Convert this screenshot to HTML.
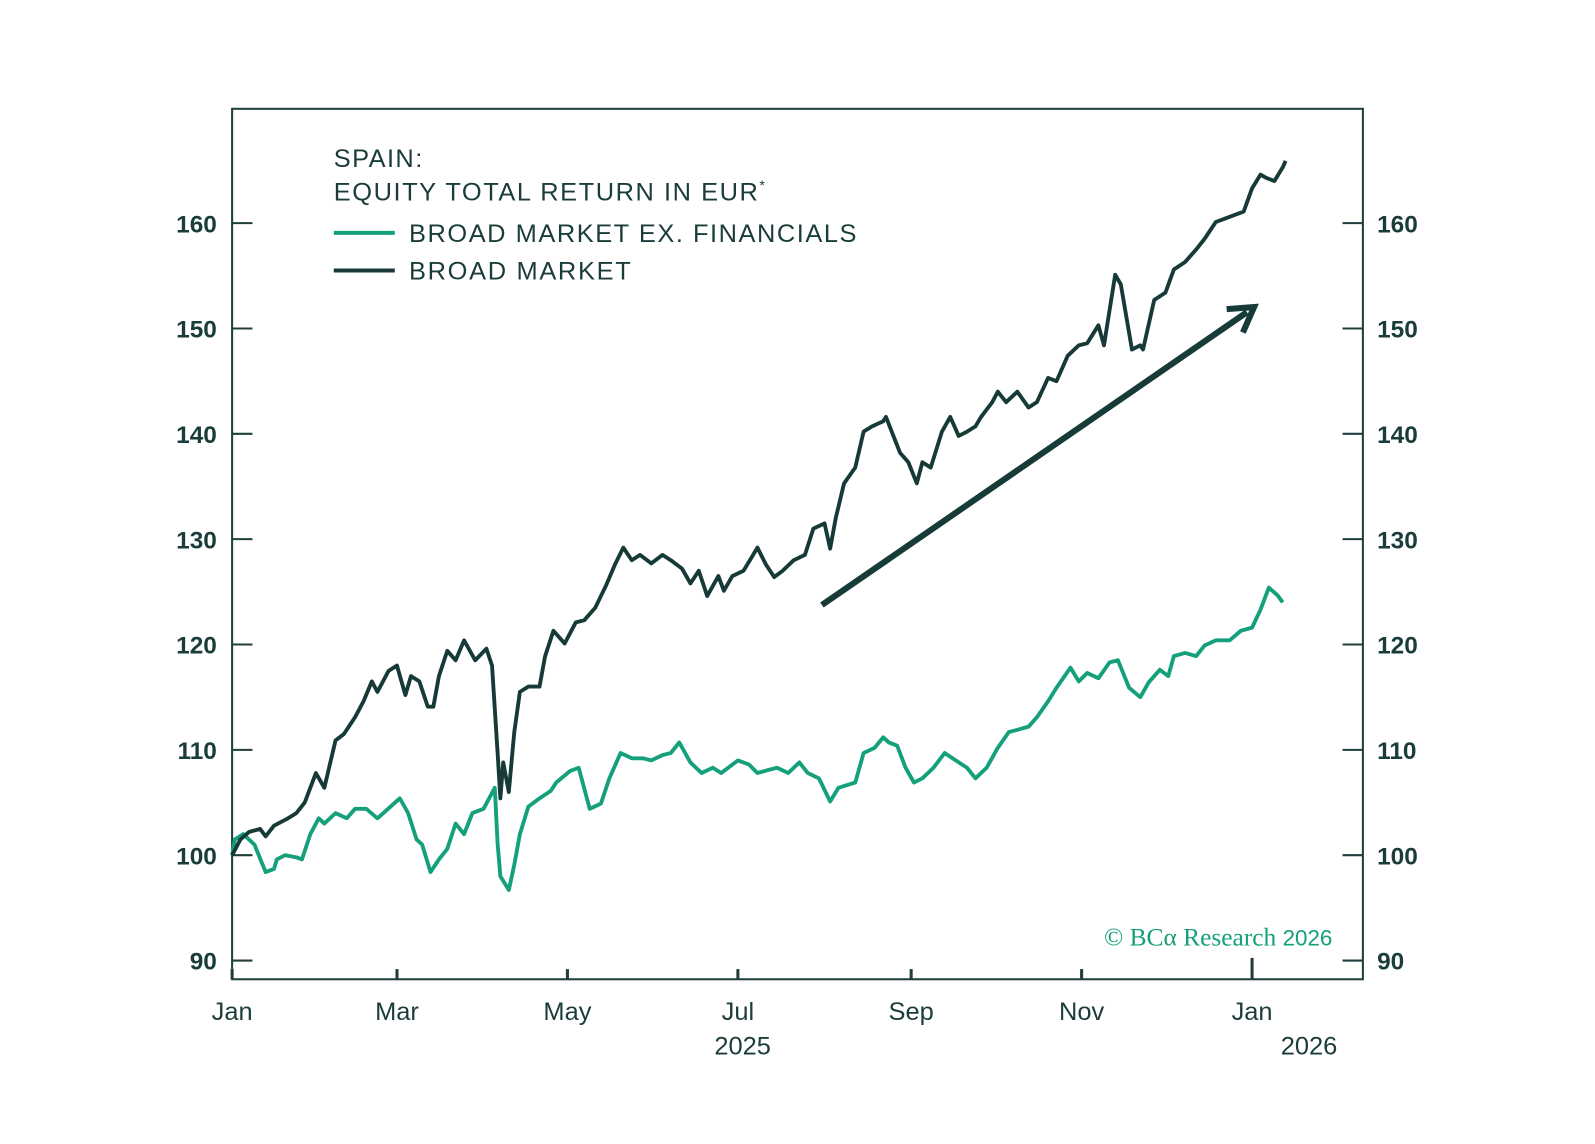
<!DOCTYPE html>
<html><head><meta charset="utf-8"><style>
body{margin:0;background:#fff;}
svg{display:block}
svg text{font-family:"Liberation Sans",sans-serif;fill:#1a3c3a;}
</style></head><body>
<svg width="1595" height="1144" viewBox="0 0 1568 1125">
<rect x="228" y="107" width="1112" height="856" fill="none" stroke="#1f3f3d" stroke-width="2"/>
<g id="axes"></g>
<g id="series"></g>
<line x1="808" y1="595" x2="1226" y2="307" stroke="#173b38" stroke-width="6"/>
<path d="M1206,304 L1233,302 L1222,327" fill="none" stroke="#173b38" stroke-width="6"/>
<text x="328" y="164" font-size="25" textLength="87">SPAIN:</text>
<text x="328" y="197" font-size="25"><tspan textLength="417">EQUITY TOTAL RETURN IN EUR</tspan><tspan font-size="14" dy="-10">*</tspan></text>
<line x1="328" y1="229" x2="388" y2="229" stroke="#14a07a" stroke-width="4"/>
<text x="402" y="238" font-size="25" textLength="440">BROAD MARKET EX. FINANCIALS</text>
<line x1="328" y1="266" x2="388" y2="266" stroke="#163a37" stroke-width="4"/>
<text x="402" y="275" font-size="25" textLength="218">BROAD MARKET</text>
<text x="1310" y="930" font-size="25" text-anchor="end" style="font-family:'Liberation Serif',serif;fill:#14a07a">© BCα Research <tspan font-family="Liberation Sans" font-size="22">2026</tspan></text>
</svg>
<script>
const yTicks=[90,100,110,120,130,140,150,160];
const xTickDays=[0,59,120,181,243,304,365];
const xTickLabels=["Jan","Mar","May","Jul","Sep","Nov","Jan"];
const broadDays=[0,3,6,10,12,15,20,23,26,30,33,37,40,44,47,50,52,56,59,62,64,67,70,72,74,77,80,83,87,91,93,95,96,97,99,101,103,106,110,112,115,119,123,126,130,134,137,140,143,146,150,154,157,161,164,167,170,174,176,179,183,186,188,191,194,197,201,205,208,212,214,216,219,223,226,229,233,234,239,242,245,247,250,254,257,260,263,266,268,272,274,277,281,285,288,292,295,299,303,306,310,312,316,318,322,325,326,330,334,337,341,345,348,352,357,362,365,368,370,373,376,377];
const broadVals=[100,101.5,102.2,102.5,101.8,102.8,103.5,104,105,107.8,106.4,110.9,111.5,113.1,114.6,116.5,115.5,117.5,118,115.2,117,116.5,114.1,114.1,117,119.4,118.5,120.4,118.5,119.6,118,109.7,105.4,108.8,106,111.7,115.5,116,116,118.9,121.3,120.1,122.1,122.3,123.5,125.7,127.6,129.2,128,128.5,127.7,128.5,128,127.2,125.8,127,124.6,126.5,125.1,126.5,127,128.3,129.2,127.6,126.4,127,128,128.5,131,131.5,129.1,132,135.3,136.8,140.2,140.7,141.2,141.6,138.2,137.3,135.3,137.3,136.8,140.2,141.6,139.8,140.2,140.7,141.6,143,144,143,144,142.5,143,145.3,145,147.4,148.4,148.6,150.3,148.4,155.1,154.2,148,148.4,148,152.7,153.4,155.6,156.3,157.5,158.5,160.1,160.6,161.1,163.3,164.6,164.3,164,165.3,165.9];
const exFinDays=[0,1,4,8,12,15,16,19,23,25,28,31,33,37,41,44,48,52,55,60,63,66,68,71,74,77,80,83,86,90,94,95,96,99,101,103,106,110,114,116,121,124,128,132,135,139,143,147,150,154,157,160,164,168,172,175,181,185,188,192,195,199,203,206,210,214,217,223,226,230,233,235,238,241,244,247,251,255,259,263,266,270,274,278,281,285,288,292,295,300,303,306,310,314,317,321,325,328,332,335,337,341,345,348,352,357,361,365,368,371,374,376];
const exFinVals=[100,101.5,102,101,98.4,98.7,99.6,100,99.8,99.6,102,103.5,103,104,103.5,104.4,104.4,103.5,104.2,105.4,104,101.5,101,98.4,99.6,100.6,103,102,104,104.4,106.4,101.1,98,96.7,99.1,102,104.6,105.4,106.1,106.9,108,108.3,104.4,104.9,107.3,109.7,109.2,109.2,109,109.5,109.7,110.7,108.8,107.8,108.3,107.8,109,108.6,107.8,108.1,108.3,107.8,108.8,107.8,107.3,105.1,106.4,106.9,109.7,110.2,111.2,110.7,110.4,108.3,106.9,107.3,108.3,109.7,109,108.3,107.3,108.3,110.2,111.7,111.9,112.2,113.1,114.6,115.9,117.8,116.5,117.3,116.8,118.3,118.5,115.9,115,116.4,117.6,117,118.9,119.2,118.9,119.9,120.4,120.4,121.3,121.6,123.3,125.4,124.7,124];
const NS="http://www.w3.org/2000/svg";
const X0=228,PXD=2.748,Y100=841,PXV=10.36;
function xs(d){return X0+d*PXD;}
function ys(v){return Y100-(v-100)*PXV;}
const axes=document.getElementById('axes');
function mk(tag,attrs,parent){const e=document.createElementNS(NS,tag);for(const k in attrs)e.setAttribute(k,attrs[k]);parent.appendChild(e);return e;}
yTicks.forEach(v=>{
  const y=ys(v);
  const l1=mk('line',{x1:228,x2:248,y1:y,y2:y,stroke:'#1f3f3d','stroke-width':2},axes);
  
  
  const l2=mk('line',{x1:1320,x2:1340,y1:y,y2:y,stroke:'#1f3f3d','stroke-width':2},axes);
  
  
  const t1=mk('text',{x:213,y:y+9,'font-size':24,'text-anchor':'end','font-weight':'bold'},axes);t1.textContent=v;
  
  
  const t2=mk('text',{x:1354,y:y+9,'font-size':24,'font-weight':'bold'},axes);t2.textContent=v;
  
  
});
xTickDays.forEach((d,i)=>{
  const x=xs(d);
  const last=i===xTickDays.length-1;
  const l=mk('line',{x1:x,x2:x,y1:last?942:953,y2:963,stroke:'#1f3f3d','stroke-width':3},axes);
  
  
  const t=mk('text',{x:x,y:1003,'font-size':25,'text-anchor':'middle'},axes);t.textContent=xTickLabels[i];
  
  
});
const y1=mk('text',{x:730,y:1037,'font-size':25,'text-anchor':'middle'},axes);y1.textContent='2025';


const y2=mk('text',{x:1287,y:1037,'font-size':25,'text-anchor':'middle'},axes);y2.textContent='2026';


const g=document.getElementById('series');
function line(days,vals){return days.map((d,i)=>(i?'L':'M')+xs(d).toFixed(1)+','+ys(vals[i]).toFixed(1)).join(' ');}
const p1=mk('path',{d:line(exFinDays,exFinVals),fill:'none',stroke:'#14a07a','stroke-width':3.8,'stroke-linejoin':'round'},g);


const p2=mk('path',{d:line(broadDays,broadVals),fill:'none',stroke:'#163a37','stroke-width':3.8,'stroke-linejoin':'round'},g);


</script>
</body></html>
